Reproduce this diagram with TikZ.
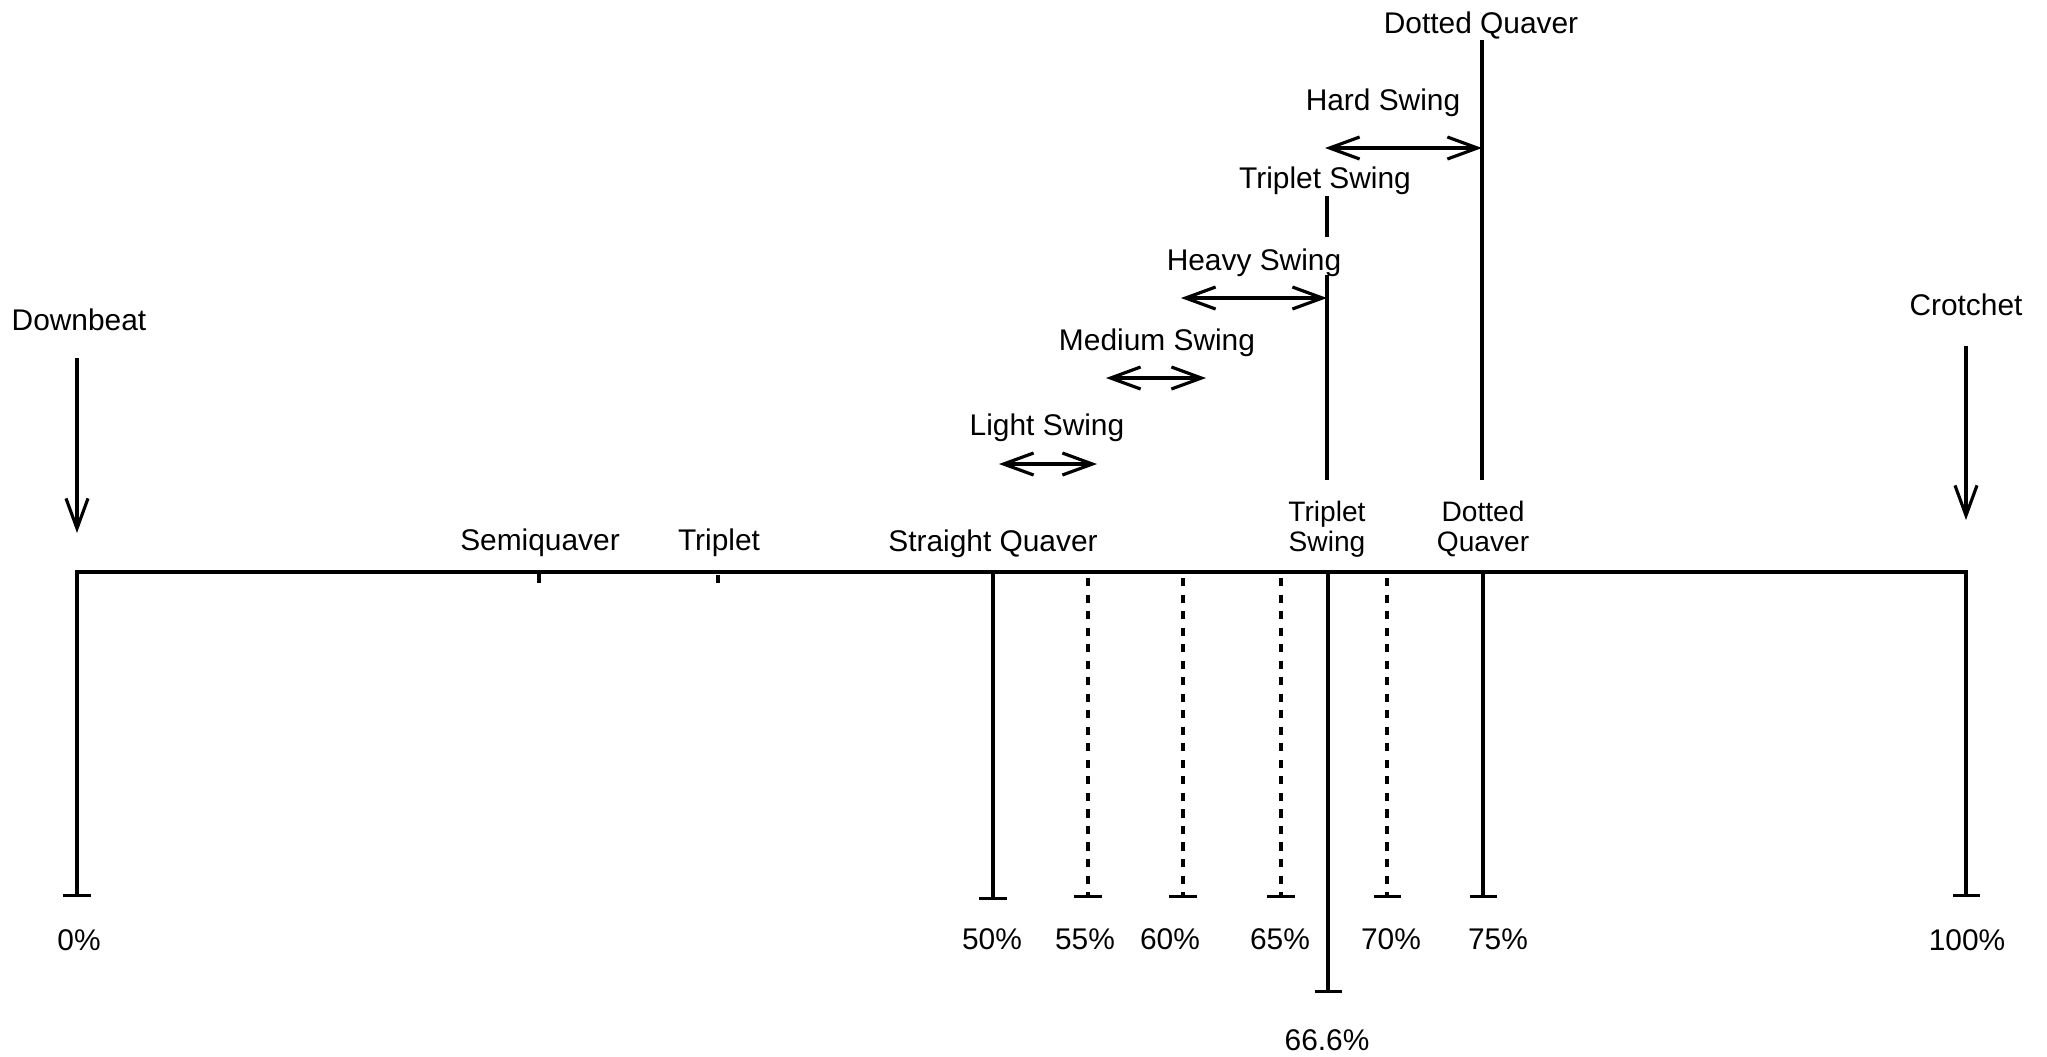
\documentclass[tikz,border=0pt]{standalone}
\usepackage{fontspec}
\setmainfont{Liberation Sans}
\usetikzlibrary{arrows.meta}

\begin{document}
\begin{tikzpicture}[x=0.01cm,y=-0.01cm,line width=0.9pt,
    lbl/.style={anchor=base,inner sep=0pt,font=\fontsize{8.5}{10}\selectfont},
    lbltwo/.style={anchor=base,align=center,inner sep=0pt,font=\fontsize{8}{8.5}\selectfont},
    pointer/.style={-{Straight Barb[length=3mm,width=2.2mm]}},
    swingspan/.style={{Straight Barb[length=3mm,width=2.2mm]}-{Straight Barb[length=3mm,width=2.2mm]}},
    stem/.style={-{Bar[width=2.7mm]}},
    dotstem/.style={-{Bar[width=2.7mm]},dash pattern=on 2.3pt off 2.4pt}]
    \useasboundingbox (0,0) rectangle (2047,1056);
    % Timeline
    \coordinate (a0) at (77,572);
    \coordinate (z0) at (77,897);
    \coordinate (a100) at (1966,572);
    \coordinate (z100) at (1966,897);
    \draw[{Bar[width=2.7mm]}-{Bar[width=2.7mm]}] (z0) -- (a0) -- (a100) -- (z100);
    \node[lbl] (p0) at (79,950) {0\%};
    \node[lbl] (p100) at (1967,950) {100\%};
    % Downbeat and crotchet
    \node[lbl] (downbeat) at (79,330) {Downbeat};
    \coordinate (dbtop) at (77,358);
    \coordinate (dbtip) at (77,533);
    \draw[pointer] (dbtop) -- (dbtip);
    \node[lbl] (crotchet) at (1966,315) {Crotchet};
    \coordinate (crtop) at (1966,346);
    \coordinate (crtip) at (1966,520);
    \draw[pointer] (crtop) -- (crtip);
    % Small ticks
    \node[lbl] (semiquaver) at (540,550) {Semiquaver};
    \coordinate (asemi) at (539,572);
    \coordinate (zsemi) at (539,583);
    \draw (asemi) -- (zsemi);
    \node[lbl] (triplet) at (719,550) {Triplet};
    \coordinate (atrip) at (718,575);
    \coordinate (ztrip) at (718,583);
    \draw[dash pattern=on 2.3pt off 2.4pt] (atrip) -- (ztrip);
    % Straight quaver
    \node[lbl] (straight) at (993,551) {Straight Quaver};
    \coordinate (a50) at (993,572);
    \coordinate (z50) at (993,900);
    \draw[stem] (a50) -- (z50);
    \node[lbl] (p50) at (992,949) {50\%};
    % Dotted steps
    \foreach \p/\x/\lx in {55/1088/1085,60/1183/1170,65/1281/1280,70/1387/1391}{
        \coordinate (a\p) at (\x,578);
        \coordinate (z\p) at (\x,898);
        \draw[dotstem] (a\p) -- (z\p);
        \node[lbl] (p\p) at (\lx,949) {\p\%};
    }
    % Triplet swing
    \node[lbltwo] (tswinglow) at (1327,551) {Triplet\\Swing};
    \coordinate (a666) at (1328,570);
    \coordinate (z666) at (1328,993);
    \draw[stem] (a666) -- (z666);
    \node[lbl] (p666) at (1327,1050) {66.6\%};
    % Dotted quaver
    \node[lbltwo] (dquaverlow) at (1483,551) {Dotted\\Quaver};
    \coordinate (a75) at (1483,570);
    \coordinate (z75) at (1483,898);
    \draw[stem] (a75) -- (z75);
    \node[lbl] (p75) at (1498,949) {75\%};
    % Swing ranges
    \node[lbl] (light) at (1047,435) {Light Swing};
    \coordinate (lightl) at (999,464);
    \coordinate (lightr) at (1097,464);
    \draw[swingspan] (lightl) -- (lightr);
    \node[lbl] (medium) at (1157,350) {Medium Swing};
    \coordinate (mediuml) at (1106,378);
    \coordinate (mediumr) at (1206,378);
    \draw[swingspan] (mediuml) -- (mediumr);
    \node[lbl] (heavy) at (1254,270) {Heavy Swing};
    \coordinate (heavyl) at (1181,298);
    \coordinate (heavyr) at (1327,298);
    \draw[swingspan] (heavyl) -- (heavyr);
    \node[lbl] (tswingtop) at (1325,188) {Triplet Swing};
    \coordinate (tsa) at (1327,196);
    \coordinate (tsb) at (1327,237);
    \coordinate (tsc) at (1327,275);
    \coordinate (tsd) at (1327,480);
    \draw (tsa) -- (tsb);
    \draw (tsc) -- (tsd);
    \node[lbl] (hard) at (1383,110) {Hard Swing};
    \coordinate (hardl) at (1325,148);
    \coordinate (hardr) at (1482,148);
    \draw[swingspan] (hardl) -- (hardr);
    \node[lbl] (dquavertop) at (1481,33) {Dotted Quaver};
    \coordinate (dqa) at (1482,40);
    \coordinate (dqb) at (1482,480);
    \draw (dqa) -- (dqb);
\end{tikzpicture}
\end{document}
